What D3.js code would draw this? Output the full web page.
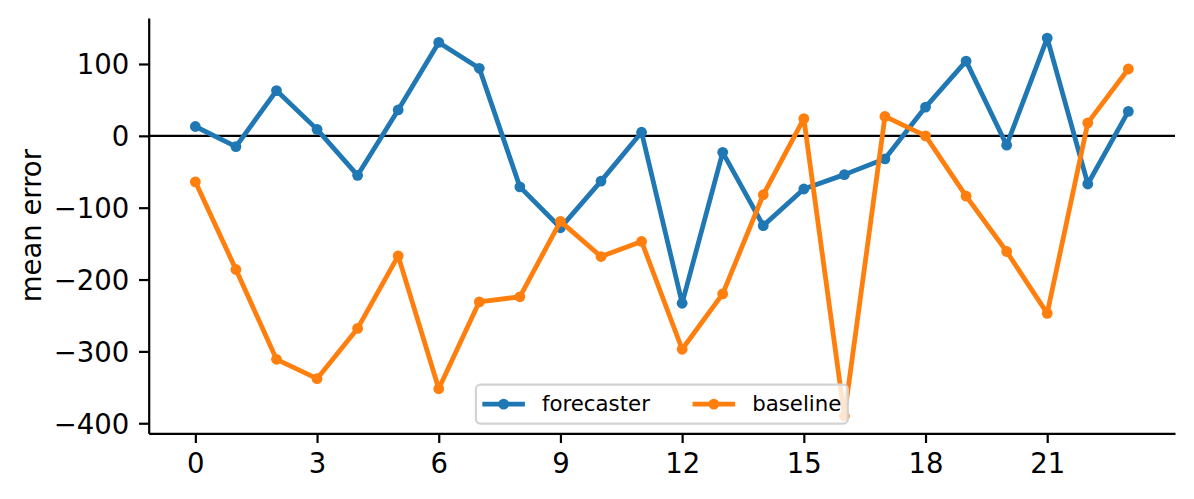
<!DOCTYPE html>
<html>
<head>
<meta charset="utf-8">
<script src="https://cdn.jsdelivr.net/npm/d3@7"></script>
<style>
  body { margin: 0; background: #fff; }
  svg { display: block; font-family: "DejaVu Sans", sans-serif; }
</style>
</head>
<body>
<svg id="chart" width="1194" height="499"></svg>
<script>
// Data
const steps = d3.range(0, 24);
const forecaster = [13, -15, 63, 9, -55, 36, 130, 94, -71, -128, -63, 5,
  -233, -23, -125, -74, -54, -32, 40, 104, -13, 136, -67, 34];
const baseline = [-64, -186, -311, -338, -268, -167, -352, -231, -224, -119, -168, -147,
  -297, -220, -82, 24, -390, 27, 0, -84, -161, -247, 18, 93];
const seriesNames = ["forecaster", "baseline"];
const seriesColors = ["#1f77b4", "#ff7f0e"];
const xTicks = [0, 3, 6, 9, 12, 15, 18, 21];
const yTicks = [-400, -300, -200, -100, 0, 100];
const yLimits = [-414, 164];

const svg = d3.select("#chart");
const margin = {left: 148.7, right: 1194 - 1175, top: 18, bottom: 499 - 433.3};
const W = 1194, H = 499;

// matplotlib style 5% padding
function padded(ext) {
  const p = (ext[1] - ext[0]) * 0.05;
  return [ext[0] - p, ext[1] + p];
}

const x = d3.scaleLinear()
  .domain(padded(d3.extent(steps)))
  .range([margin.left, W - margin.right]);
const y = d3.scaleLinear()
  .domain(yLimits)
  .range([H - margin.bottom, margin.top]);

const tickFont = 27.5;
const lineW = 4.8, dotR = 5.4;

// x axis
const xAxis = svg.append("g")
  .attr("transform", `translate(0,${H - margin.bottom})`)
  .call(d3.axisBottom(x).tickValues(xTicks).tickSize(9.7).tickPadding(9.7).tickSizeOuter(0));
// y axis
const yAxis = svg.append("g")
  .attr("transform", `translate(${margin.left},0)`)
  .call(d3.axisLeft(y).tickValues(yTicks).tickSize(9.7).tickPadding(9.7).tickSizeOuter(0)
    .tickFormat(d => d < 0 ? "\u2212" + Math.abs(d) : d));

[xAxis, yAxis].forEach(g => {
  g.select(".domain").attr("stroke", "#000").attr("stroke-width", 2.2);
  g.selectAll(".tick line").attr("stroke", "#000").attr("stroke-width", 2.2);
  g.selectAll(".tick text")
    .attr("fill", "#000")
    .style("font-family", "DejaVu Sans")
    .style("font-size", tickFont + "px");
});
xAxis.selectAll(".tick text").attr("dy", null).attr("y", 40);
yAxis.selectAll(".tick text").attr("dy", "0.36em");

// y label
svg.append("text")
  .attr("transform", `translate(41,${(margin.top + H - margin.bottom) / 2}) rotate(-90)`)
  .attr("text-anchor", "middle")
  .style("font-size", tickFont + "px")
  .text("mean error");

// zero line
svg.append("line")
  .attr("x1", margin.left).attr("x2", W - margin.right)
  .attr("y1", y(0)).attr("y2", y(0))
  .attr("stroke", "#000").attr("stroke-width", 2.2);

// series
const line = d3.line().x((d, i) => x(steps[i])).y(d => y(d));
[forecaster, baseline].forEach((vals, k) => {
  const g = svg.append("g");
  g.append("path")
    .datum(vals)
    .attr("d", line)
    .attr("fill", "none")
    .attr("stroke", seriesColors[k])
    .attr("stroke-width", lineW)
    .attr("stroke-linejoin", "round");
  g.selectAll("circle")
    .data(vals)
    .enter()
    .append("circle")
      .attr("cx", (d, i) => x(steps[i]))
      .attr("cy", d => y(d))
      .attr("r", dotR)
      .attr("fill", seriesColors[k]);
});

// legend, lower center
const lf = 21.3;
const leg = svg.append("g");
const box = leg.append("rect")
  .attr("fill", "#fff").attr("fill-opacity", 0.8)
  .attr("stroke", "#d3d3d3").attr("stroke-width", 2.2)
  .attr("rx", 4.5).attr("ry", 4.5);
let cx = 0;
const items = seriesNames.map((name, k) => {
  const it = leg.append("g");
  it.append("line")
    .attr("x1", 0).attr("x2", 2 * lf)
    .attr("y1", 0).attr("y2", 0)
    .attr("stroke", seriesColors[k]).attr("stroke-width", lineW);
  it.append("circle").attr("cx", lf).attr("cy", 0).attr("r", dotR).attr("fill", seriesColors[k]);
  const t = it.append("text")
    .attr("x", 2.8 * lf).attr("y", 0).attr("dy", "0.33em")
    .style("font-size", lf + "px")
    .text(name);
  return {it, w: 2.8 * lf + t.node().getComputedTextLength()};
});
const pad = 0.3 * lf;
items.forEach((d, k) => {
  d.it.attr("transform", `translate(${pad + cx},0)`);
  cx += d.w + (k < items.length - 1 ? 2 * lf : 0);
});
const boxW = cx + 2 * pad, boxH = 39;
const midX = (x.range()[0] + x.range()[1]) / 2;
const bottomY = H - margin.bottom - 0.5 * lf + 1;
box.attr("x", 0).attr("y", -boxH / 2).attr("width", boxW).attr("height", boxH);
leg.attr("transform", `translate(${midX - boxW / 2},${bottomY - boxH / 2})`);
</script>
</body>
</html>
